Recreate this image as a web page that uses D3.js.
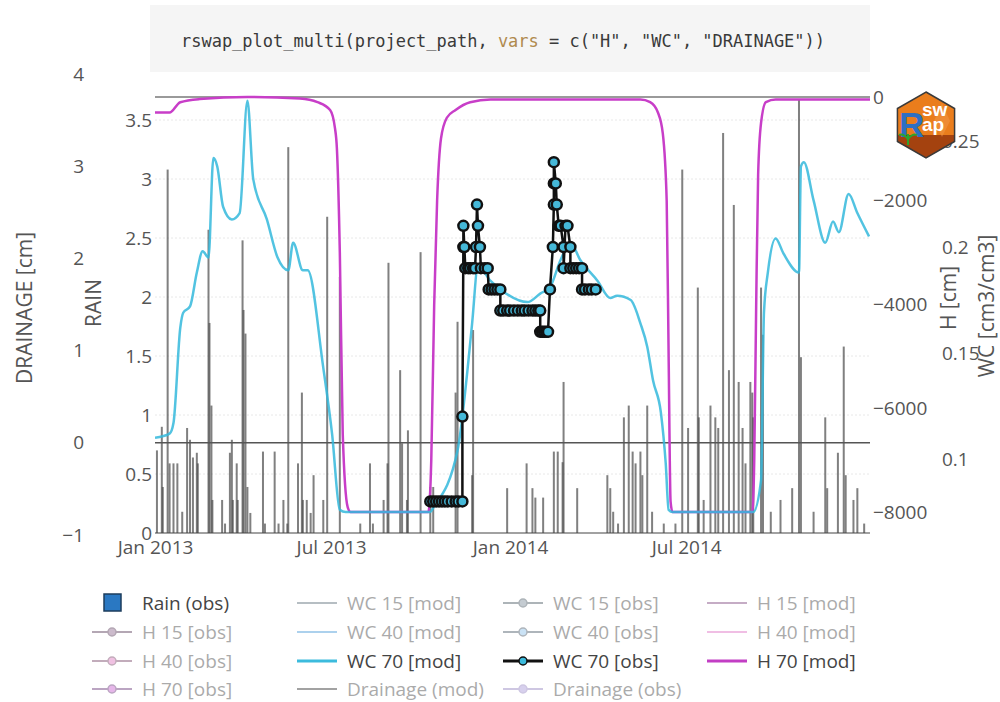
<!DOCTYPE html>
<html>
<head>
<meta charset="utf-8">
<script src="https://cdn.jsdelivr.net/npm/d3@7"></script>
<style>
  body { margin: 0; background: #fff; }
  svg text { font-family: "Open Sans", "Noto Sans", sans-serif; }
</style>
</head>
<body>
<div id="chart"></div>
<script>
// day offsets are counted from startDate
var startDate = "2013-01-01";
var endDay = 735;

// Rain (obs), cm
var rainDay = [2,7,8,13,15,19,23,28,33,36,39,43,44,55,56,58,59,69,72,77,79,80,84,85,90,91,93,95,98,111,113,123,127,132,136,137,147,151,152,156,160,163,173,177,190,211,221,224,235,239,240,252,254,259,260,273,283,286,309,311,326,327,362,382,388,391,399,410,414,419,420,434,465,468,471,476,482,487,491,494,499,501,506,511,523,535,542,548,558,559,564,571,576,579,584,590,595,600,604,607,612,614,615,623,625,633,643,655,662,664,677,689,691,702,708,710,718,722,729];
var rainVal = [0.70,0.90,0.39,3.08,0.59,0.59,0.59,0.18,0.89,0.79,0.64,0.68,0.59,2.57,1.78,1.08,0.28,0.28,0.08,0.68,0.79,0.28,0.59,0.28,2.48,1.89,1.69,0.39,0.17,0.69,0.08,0.69,0.08,0.28,0.08,3.27,0.59,1.19,0.28,0.28,0.17,0.49,0.28,2.68,2.17,0.08,0.59,0.08,0.28,0.59,2.29,1.38,0.76,0.28,0.87,2.38,0.39,0.39,1.19,1.79,0.49,1.72,0.38,0.59,0.38,0.30,0.30,0.69,0.69,0.60,1.28,0.38,0.49,0.38,0.18,0.08,0.98,1.08,0.69,0.59,0.69,0.49,1.08,0.18,0.08,0.08,3.08,0.89,2.08,0.98,0.28,1.08,0.98,0.89,3.39,1.38,2.78,1.28,0.89,0.59,1.28,1.19,0.98,2.08,1.68,0.18,0.28,0.38,3.67,1.49,0.18,0.98,0.38,0.68,1.58,0.49,0.28,0.38,0.08];

// H 70 [mod], cm
var hDay = [0,15,26,46,95,149,167,180,185,187,190,193,198,201,281,284,287,290,294,300,309,324,345,499,509,517,522,526,528,530,532,614,616,618,620,623,628,638,735];
var hVal = [-300,-300,-100,-40,0,-30,-100,-250,-600,-1000,-3000,-6500,-7900,-8000,-8000,-7000,-4000,-2000,-800,-400,-250,-100,-50,-50,-100,-300,-700,-2000,-5000,-7800,-8000,-8000,-7000,-4000,-1500,-500,-100,-50,-50];

// WC 70 [mod], cm3/cm3
var wcDay = [0,15,19,26,29,36,43,49,55,60,64,70,79,87,95,101,115,126,137,142,152,157,173,182,190,196,283,286,311,321,326,332,345,355,383,396,406,417,427,437,455,468,475,489,499,506,512,520,525,528,532,615,623,626,630,638,646,662,664,667,677,689,697,703,713,722,734];
var wcVal = [0.110,0.112,0.117,0.162,0.169,0.172,0.188,0.198,0.195,0.242,0.238,0.219,0.213,0.216,0.269,0.232,0.213,0.195,0.189,0.202,0.189,0.189,0.143,0.112,0.076,0.075,0.075,0.077,0.104,0.141,0.164,0.191,0.184,0.180,0.174,0.178,0.181,0.194,0.202,0.194,0.184,0.176,0.177,0.175,0.164,0.153,0.137,0.122,0.098,0.076,0.075,0.075,0.090,0.169,0.188,0.204,0.197,0.188,0.238,0.240,0.222,0.202,0.212,0.207,0.225,0.216,0.205];

// WC 70 [obs], cm3/cm3
var obsDay = [283,286,289,292,295,298,301,305,309,312,316,316,317,317,318,319,322,324,327,329,330,331,332,334,335,339,342,343,346,349,352,355,355,358,362,365,369,373,377,380,384,388,391,394,396,396,398,400,402,404,406,409,410,410,410,412,413,415,417,420,420,422,424,427,427,430,433,436,439,439,442,446,449,453];
var obsVal = [0.08,0.08,0.08,0.08,0.08,0.08,0.08,0.08,0.08,0.08,0.08,0.12,0.20,0.21,0.20,0.19,0.19,0.19,0.19,0.19,0.20,0.22,0.21,0.20,0.19,0.19,0.19,0.18,0.18,0.18,0.18,0.18,0.17,0.17,0.17,0.17,0.17,0.17,0.17,0.17,0.17,0.17,0.17,0.17,0.17,0.16,0.16,0.16,0.16,0.16,0.18,0.20,0.22,0.23,0.24,0.23,0.22,0.21,0.21,0.20,0.19,0.21,0.21,0.20,0.19,0.19,0.19,0.19,0.19,0.18,0.18,0.18,0.18,0.18];

// Drainage (mod), cm
var drainDay = [0, 735];
var drainVal = [0, 0];

// axis ticks
var rainTicks = [0, 0.5, 1, 1.5, 2, 2.5, 3, 3.5];
var drainTicks = [-1, 0, 1, 2, 3, 4];
var hTicks = [0, -2000, -4000, -6000, -8000];
var wcTicks = [0.1, 0.15, 0.2, 0.25];
var dateTicks = ["2013-01-01", "2013-07-01", "2014-01-01", "2014-07-01"];

var legendNames = ["Rain (obs)", "WC 15 [mod]", "WC 15 [obs]", "H 15 [mod]",
  "H 15 [obs]", "WC 40 [mod]", "WC 40 [obs]", "H 40 [mod]",
  "H 40 [obs]", "WC 70 [mod]", "WC 70 [obs]", "H 70 [mod]",
  "H 70 [obs]", "Drainage (mod)", "Drainage (obs)"];
var legendShown = ["Rain (obs)", "WC 70 [mod]", "WC 70 [obs]", "H 70 [mod]"];

var legendStyle = {
  "Rain (obs)":     {kind: "box", fill: "#2a78c2", stroke: "#1d3d5c"},
  "WC 15 [mod]":    {kind: "line", stroke: "#5f707c"},
  "WC 15 [obs]":    {kind: "marker", stroke: "#4c5a64", fill: "#7d8e9a"},
  "H 15 [mod]":     {kind: "line", stroke: "#804a80"},
  "H 15 [obs]":     {kind: "marker", stroke: "#5a3d5a", fill: "#8f6a8f"},
  "WC 40 [mod]":    {kind: "line", stroke: "#4a9ad8"},
  "WC 40 [obs]":    {kind: "marker", stroke: "#4e5c6a", fill: "#8cc0ea"},
  "H 40 [mod]":     {kind: "line", stroke: "#e070c4"},
  "H 40 [obs]":     {kind: "marker", stroke: "#7a4a6a", fill: "#de78c0"},
  "WC 70 [mod]":    {kind: "line", stroke: "#3cbbdd", width: 3},
  "WC 70 [obs]":    {kind: "marker", stroke: "#111", fill: "#3cbbdd", width: 3},
  "H 70 [mod]":     {kind: "line", stroke: "#c23ec4", width: 3},
  "H 70 [obs]":     {kind: "marker", stroke: "#6a3a7a", fill: "#c860d0"},
  "Drainage (mod)": {kind: "line", stroke: "#333"},
  "Drainage (obs)": {kind: "marker", stroke: "#9484c0", fill: "#a898d8"}
};

var W = 1000, H = 702;
var plotLeft = 155, plotRight = 870, plotTop = 75, plotBottom = 533;

var svg = d3.select("#chart").append("svg")
    .attr("width", W)
    .attr("height", H);

var parse = d3.timeParse("%Y-%m-%d");
var t0 = parse(startDate);
function dayDate(n) { return d3.timeDay.offset(t0, n); }

var x = d3.scaleTime()
    .domain([t0, dayDate(endDay)])
    .range([plotLeft, plotRight]);

var yRain = d3.scaleLinear().domain([0, 3.5]).range([plotBottom, 120]);
var yDrain = d3.scaleLinear().domain([-1, 4]).range([535, 74]);
var yH = d3.scaleLinear().domain([0, -8000]).range([97, 512]);
var yWC = d3.scaleLinear().domain([0.1, 0.25]).range([459, 141]);

svg.append("clipPath").attr("id", "plotclip")
  .append("rect")
    .attr("x", plotLeft).attr("y", plotTop)
    .attr("width", plotRight - plotLeft).attr("height", plotBottom - plotTop + 2);

var plot = svg.append("g").attr("clip-path", "url(#plotclip)");

// faint grid
plot.selectAll(".grid")
    .data(rainTicks.slice(1))
    .enter().append("line")
    .attr("x1", plotLeft).attr("x2", plotRight)
    .attr("y1", function(d) { return yRain(d); })
    .attr("y2", function(d) { return yRain(d); })
    .attr("stroke", "#e8e8e8")
    .attr("stroke-dasharray", "2,2")
    .attr("stroke-width", 1);

// rain bars
var rain = d3.zip(rainDay, rainVal);
plot.selectAll(".rain")
    .data(rain)
    .enter().append("rect")
    .attr("x", function(d) { return x(dayDate(d[0])) - 1; })
    .attr("y", function(d) { return yRain(d[1]); })
    .attr("width", 2)
    .attr("height", function(d) { return yRain(0) - yRain(d[1]); })
    .attr("fill", "#4a4a4a")
    .attr("opacity", 0.7);

// zero lines
plot.append("line")
    .attr("x1", plotLeft).attr("x2", plotRight)
    .attr("y1", yRain(0)).attr("y2", yRain(0))
    .attr("stroke", "#444").attr("stroke-width", 1.2);

plot.append("line")
    .attr("x1", plotLeft).attr("x2", plotRight)
    .attr("y1", yH(0)).attr("y2", yH(0))
    .attr("stroke", "#9a9a9a").attr("stroke-width", 2);

// drainage (mod)
var drainLine = d3.line()
    .x(function(d) { return x(dayDate(d[0])); })
    .y(function(d) { return yDrain(d[1]); });

plot.append("path")
    .datum(d3.zip(drainDay, drainVal))
    .attr("d", drainLine)
    .attr("fill", "none")
    .attr("stroke", "#555")
    .attr("stroke-width", 1.5);

// H 70 [mod]
var hLine = d3.line()
    .x(function(d) { return x(dayDate(d[0])); })
    .y(function(d) { return yH(d[1]); })
    .curve(d3.curveMonotoneX);

plot.append("path")
    .datum(d3.zip(hDay, hVal))
    .attr("d", hLine)
    .attr("fill", "none")
    .attr("stroke", "#c83ec8")
    .attr("stroke-width", 2.5);

// WC 70 [mod]
var wcLine = d3.line()
    .x(function(d) { return x(dayDate(d[0])); })
    .y(function(d) { return yWC(d[1]); })
    .curve(d3.curveMonotoneX);

plot.append("path")
    .datum(d3.zip(wcDay, wcVal))
    .attr("d", wcLine)
    .attr("fill", "none")
    .attr("stroke", "#34b8dc")
    .attr("stroke-opacity", 0.85)
    .attr("stroke-width", 2.5);

// WC 70 [obs]
var obs = d3.zip(obsDay, obsVal);
var obsLine = d3.line()
    .x(function(d) { return x(dayDate(d[0])); })
    .y(function(d) { return yWC(d[1]); });

plot.append("path")
    .datum(obs)
    .attr("d", obsLine)
    .attr("fill", "none")
    .attr("stroke", "#111")
    .attr("stroke-width", 2.5);

plot.selectAll(".obs")
    .data(obs)
    .enter().append("circle")
    .attr("cx", function(d) { return x(dayDate(d[0])); })
    .attr("cy", function(d) { return yWC(d[1]); })
    .attr("r", 5)
    .attr("fill", "#45b8d8")
    .attr("stroke", "#111")
    .attr("stroke-width", 2.5);

// axes
function styleAxis(g) {
  g.select(".domain").remove();
  g.selectAll("text")
    .attr("fill", "#555")
    .style("font-size", "19px")
    .style("font-family", "'Open Sans', 'Noto Sans', sans-serif");
}

svg.append("g")
    .attr("transform", "translate(" + plotLeft + ",0)")
    .call(d3.axisLeft(yRain).tickValues(rainTicks).tickSize(0).tickPadding(3)
      .tickFormat(d3.format("~g")))
    .call(styleAxis);

svg.append("g")
    .attr("transform", "translate(84,0)")
    .call(d3.axisLeft(yDrain).tickValues(drainTicks).tickSize(0).tickPadding(0)
      .tickFormat(d3.format("d")))
    .call(styleAxis);

svg.append("g")
    .attr("transform", "translate(871,0)")
    .call(d3.axisRight(yH).tickValues(hTicks).tickSize(0).tickPadding(2)
      .tickFormat(d3.format("d")))
    .call(styleAxis);

svg.append("g")
    .attr("transform", "translate(940,0)")
    .call(d3.axisRight(yWC).tickValues(wcTicks).tickSize(0).tickPadding(2)
      .tickFormat(d3.format("~g")))
    .call(styleAxis);

svg.append("g")
    .attr("transform", "translate(0," + plotBottom + ")")
    .call(d3.axisBottom(x).tickValues(dateTicks.map(parse)).tickSize(0).tickPadding(8)
      .tickFormat(d3.timeFormat("%b %Y")))
    .call(styleAxis);

// axis titles
function title(txt, cx, cy) {
  svg.append("text")
    .attr("transform", "translate(" + cx + "," + cy + ") rotate(-90)")
    .attr("text-anchor", "middle")
    .attr("dominant-baseline", "central")
    .attr("fill", "#555")
    .style("font-size", "21px")
    .text(txt);
}
title("DRAINAGE [cm]", 24, 308);
title("RAIN", 93, 303);
title("H [cm]", 948, 298);
title("WC [cm3/cm3]", 986, 306);

// legend
var colX = [92, 297, 503, 707];
var rowY = [603, 632, 661, 689];

var leg = svg.selectAll(".leg")
    .data(legendNames)
    .enter().append("g")
    .attr("transform", function(d, i) {
      return "translate(" + colX[i % 4] + "," + rowY[Math.floor(i / 4)] + ")";
    })
    .attr("opacity", function(d) { return legendShown.indexOf(d) >= 0 ? 1 : 0.45; });

leg.each(function(d) {
  var g = d3.select(this), s = legendStyle[d];
  if (s.kind === "box") {
    g.append("rect")
      .attr("x", 12).attr("y", -9).attr("width", 17).attr("height", 17)
      .attr("fill", s.fill).attr("stroke", s.stroke).attr("stroke-width", 1.5);
  } else {
    g.append("line")
      .attr("x1", 0).attr("x2", 40).attr("y1", 0).attr("y2", 0)
      .attr("stroke", s.stroke).attr("stroke-width", s.width || 2);
    if (s.kind === "marker") {
      g.append("circle")
        .attr("cx", 20).attr("cy", 0).attr("r", 4)
        .attr("fill", s.fill).attr("stroke", s.stroke).attr("stroke-width", 1.5);
    }
  }
  g.append("text")
    .attr("x", 50).attr("y", 0)
    .attr("dominant-baseline", "central")
    .attr("fill", "#444")
    .style("font-size", "19px")
    .text(d);
});

// Rswap logo
var logo = svg.append("g").attr("transform", "translate(926,125)");
var hexR = 33;
var hexPts = d3.range(6).map(function(i) {
  var a = Math.PI / 3 * i - Math.PI / 2;
  return [hexR * Math.cos(a), hexR * Math.sin(a)];
});
var hexPath = "M" + hexPts.join("L") + "Z";
logo.append("clipPath").attr("id", "hexclip").append("path").attr("d", hexPath);
var lg = logo.append("g").attr("clip-path", "url(#hexclip)");
lg.append("rect").attr("x", -40).attr("y", -40).attr("width", 80).attr("height", 80).attr("fill", "#ea7d1c");
lg.append("rect").attr("x", -40).attr("y", 10).attr("width", 80).attr("height", 40).attr("fill", "#a4420f");
lg.append("path").attr("d", "M16,-22 L24,-4 L16,12 L8,-4 Z").attr("fill", "#f29a4a").attr("opacity", 0.5);
logo.append("path").attr("d", hexPath).attr("fill", "none").attr("stroke", "#3a3a3a").attr("stroke-width", 1.5);
logo.append("text").attr("x", -27).attr("y", 12)
  .style("font-family", "'Liberation Sans', Arial, sans-serif")
  .style("font-weight", "bold").style("font-size", "35px")
  .attr("fill", "#2d6fc2").text("R");
logo.append("text").attr("x", -4).attr("y", -9)
  .style("font-family", "'Liberation Sans', Arial, sans-serif")
  .style("font-weight", "bold").style("font-size", "19px")
  .attr("fill", "#fff").text("sw");
logo.append("text").attr("x", -4).attr("y", 6)
  .style("font-family", "'Liberation Sans', Arial, sans-serif")
  .style("font-weight", "bold").style("font-size", "19px")
  .attr("fill", "#fff").text("ap");
logo.append("path")
  .attr("d", "M-18,20 L-18,9 M-18,14 Q-23,8 -27,10 M-18,14 Q-13,8 -9,10")
  .attr("fill", "none").attr("stroke", "#2da42d").attr("stroke-width", 2);

// code box on top
svg.append("rect")
    .attr("x", 150).attr("y", 5).attr("width", 720).attr("height", 67)
    .attr("fill", "#f5f5f5");

var code = svg.append("text")
    .attr("x", 181).attr("y", 47)
    .attr("textLength", 644)
    .attr("lengthAdjust", "spacingAndGlyphs")
    .style("font-family", "'DejaVu Sans Mono', 'Liberation Mono', monospace")
    .style("font-size", "17px")
    .attr("fill", "#3a3a3a");
code.append("tspan").text("rswap_plot_multi(project_path, ");
code.append("tspan").attr("fill", "#b08a4e").text("vars");
code.append("tspan").text(" = c(\"H\", \"WC\", \"DRAINAGE\"))");
</script>
</body>
</html>
